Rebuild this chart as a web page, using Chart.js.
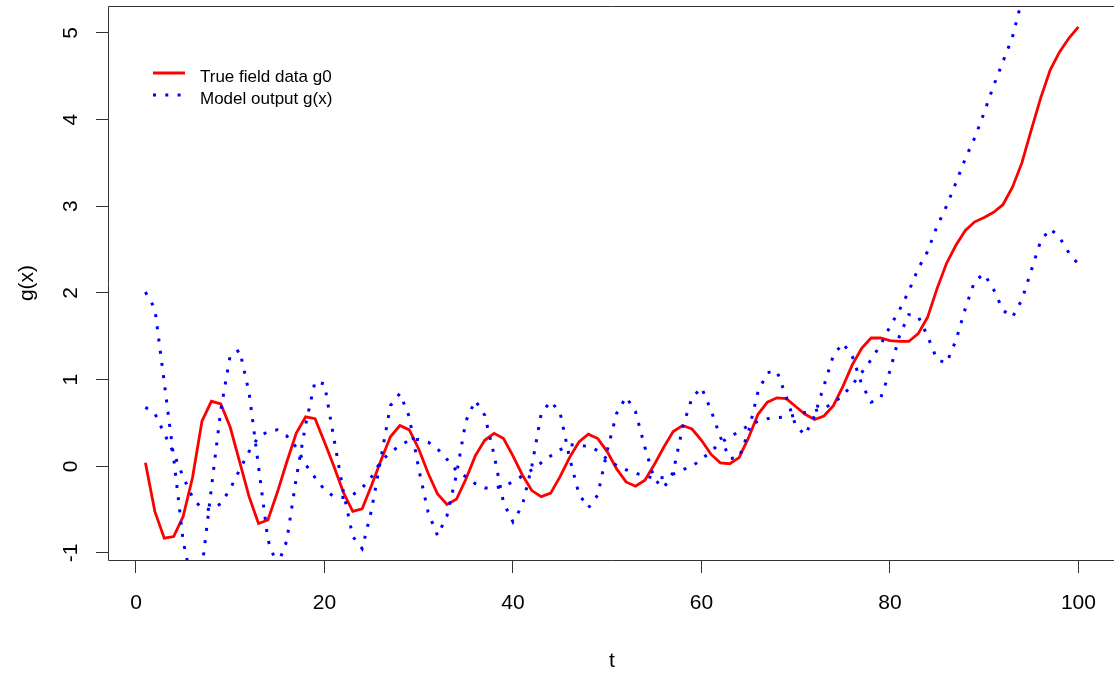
<!DOCTYPE html>
<html>
<head>
<meta charset="utf-8">
<script src="https://cdn.jsdelivr.net/npm/chart.js"></script>
<style>
  html, body { margin: 0; padding: 0; background: #fff; }
  canvas { display: block; }
</style>
</head>
<body>
<canvas id="chart" width="1114" height="677"></canvas>
<script>
// ---- data ----
const t = [1,2,3,4,5,6,7,8,9,10,11,12,13,14,15,16,17,18,19,20,
           21,22,23,24,25,26,27,28,29,30,31,32,33,34,35,36,37,38,39,40,
           41,42,43,44,45,46,47,48,49,50,51,52,53,54,55,56,57,58,59,60,
           61,62,63,64,65,66,67,68,69,70,71,72,73,74,75,76,77,78,79,80,
           81,82,83,84,85,86,87,88,89,90,91,92,93,94,95,96,97,98,99,100];

// red, true field data g0
const trueField = [
   0.04,-0.52,-0.83,-0.81,-0.58,-0.13, 0.52, 0.75, 0.72, 0.45,
   0.05,-0.35,-0.66,-0.62,-0.30, 0.05, 0.38, 0.57, 0.55, 0.28,
   0.00,-0.30,-0.52,-0.49,-0.22, 0.07, 0.34, 0.47, 0.42, 0.20,
  -0.08,-0.32,-0.44,-0.38,-0.15, 0.12, 0.30, 0.38, 0.32, 0.12,
  -0.10,-0.28,-0.35,-0.31,-0.12, 0.10, 0.28, 0.37, 0.32, 0.17,
  -0.03,-0.18,-0.23,-0.16, 0.02, 0.22, 0.40, 0.47, 0.43, 0.30,
   0.14, 0.04, 0.03, 0.10, 0.33, 0.60, 0.74, 0.79, 0.78, 0.69,
   0.60, 0.54, 0.58, 0.70, 0.92, 1.17, 1.36, 1.48, 1.48, 1.45,
   1.44, 1.44, 1.53, 1.72, 2.05, 2.34, 2.55, 2.72, 2.82, 2.87,
   2.93, 3.02, 3.22, 3.50, 3.88, 4.25, 4.57, 4.78, 4.94, 5.07
];

// blue dotted, model output g(x) - fast oscillating run
const modelRun1 = [
   2.01, 1.82, 0.97, 0.10,-0.86,-1.38,-1.18,-0.25, 0.65, 1.28,
   1.34, 0.85, 0.00,-0.85,-1.15,-0.86,-0.14, 0.48, 0.98, 0.95,
   0.32,-0.29,-0.81,-0.95,-0.50, 0.10, 0.70, 0.84, 0.57,-0.03,
  -0.53,-0.80,-0.57,-0.10, 0.52, 0.76, 0.59, 0.13,-0.42,-0.64,
  -0.45, 0.00, 0.61, 0.75, 0.62, 0.10,-0.32,-0.48,-0.33, 0.18,
   0.61, 0.80, 0.63, 0.22,-0.15,-0.25,-0.07, 0.45, 0.79, 0.91,
   0.65, 0.34, 0.09, 0.10, 0.40, 0.86, 1.08, 1.10, 0.80, 0.47,
   0.36, 0.58, 0.93, 1.28, 1.42, 1.27, 0.95, 0.74, 0.78, 1.10,
   1.50, 1.75, 1.73, 1.50, 1.23, 1.19, 1.45, 1.82, 2.14, 2.22,
   2.04, 1.80, 1.72, 1.92, 2.26, 2.60, 2.74, 2.64, 2.46, 2.33
];

// blue dotted, model output g(x) - slow run that climbs off the top
const modelRun2 = [
   0.68, 0.61, 0.38, 0.15,-0.12,-0.36,-0.49,-0.50,-0.43,-0.26,
  -0.04, 0.17, 0.34, 0.40, 0.42, 0.35, 0.22, 0.02,-0.13,-0.27,
  -0.35,-0.36,-0.33,-0.25,-0.12, 0.06, 0.16, 0.24, 0.30, 0.31,
   0.28, 0.20, 0.08,-0.05,-0.12,-0.20,-0.25,-0.25,-0.23,-0.18,
  -0.11,-0.04, 0.04, 0.12, 0.19, 0.25, 0.24, 0.23, 0.18, 0.08,
   0.01,-0.04,-0.08,-0.11,-0.14,-0.13,-0.09,-0.04, 0.00, 0.08,
   0.17, 0.27, 0.34, 0.40, 0.47, 0.52, 0.55, 0.56, 0.57, 0.59,
   0.62, 0.64, 0.67, 0.73, 0.82, 0.94, 1.08, 1.23, 1.40, 1.61,
   1.80, 2.02, 2.28, 2.48, 2.77, 3.00, 3.27, 3.55, 3.79, 4.08,
   4.39, 4.67, 4.95, 5.38, 5.68, 5.98, 6.28, 6.58, 6.88, 7.18
];

const xTicks = [0, 20, 40, 60, 80, 100];
const yTicks = [-1, 0, 1, 2, 3, 4, 5];
const legendLabels = ['True field data g0', 'Model output g(x)'];

const FONT = '"Liberation Sans", Arial, sans-serif';
const RED = '#ff0000';
const BLUE = '#0000ff';
const DOTS = [3, 9.3];

function points(ys) {
    return t.map((tv, i) => ({x: tv, y: ys[i]}));
}

// box, rotated y labels, axis titles and legend, the way base R draws them
// (the right edge of the R plot box falls just outside the picture)
const rDecor = {
    id: 'rDecor',
    afterDraw(chart) {
        const ctx = chart.ctx;
        const a = chart.chartArea;
        const yScale = chart.scales.y;
        ctx.save();

        ctx.strokeStyle = '#333';
        ctx.lineWidth = 1;
        ctx.beginPath();
        ctx.moveTo(chart.width, a.top + 0.5);
        ctx.lineTo(a.left + 0.5, a.top + 0.5);
        ctx.lineTo(a.left + 0.5, a.bottom + 0.5);
        ctx.lineTo(chart.width, a.bottom + 0.5);
        ctx.stroke();

        ctx.fillStyle = '#000';
        ctx.font = '21px ' + FONT;
        ctx.textAlign = 'center';
        ctx.textBaseline = 'middle';
        yTicks.forEach(v => {
            ctx.save();
            ctx.translate(71, yScale.getPixelForValue(v));
            ctx.rotate(-Math.PI / 2);
            ctx.fillText(String(v), 0, 0);
            ctx.restore();
        });

        // axis titles
        ctx.fillText('t', 612, 661);
        ctx.save();
        ctx.translate(27, (a.top + a.bottom) / 2);
        ctx.rotate(-Math.PI / 2);
        ctx.fillText('g(x)', 0, 0);
        ctx.restore();

        // legend (no box)
        ctx.textAlign = 'left';
        ctx.textBaseline = 'alphabetic';
        ctx.font = '17px ' + FONT;
        ctx.lineWidth = 3;
        ctx.strokeStyle = RED;
        ctx.beginPath();
        ctx.moveTo(153, 73);
        ctx.lineTo(185, 73);
        ctx.stroke();
        ctx.strokeStyle = BLUE;
        ctx.setLineDash(DOTS);
        ctx.beginPath();
        ctx.moveTo(153, 95);
        ctx.lineTo(188, 95);
        ctx.stroke();
        ctx.setLineDash([]);
        ctx.fillText(legendLabels[0], 200, 82);
        ctx.fillText(legendLabels[1], 200, 104);

        ctx.restore();
    }
};

new Chart(document.getElementById('chart'), {
    type: 'line',
    data: {
        datasets: [
            {
                label: legendLabels[0],
                data: points(trueField),
                borderColor: RED,
                borderWidth: 2.8,
                order: 1
            },
            {
                label: legendLabels[1],
                data: points(modelRun1),
                borderColor: BLUE,
                borderWidth: 3,
                borderDash: DOTS,
                order: 0
            },
            {
                label: legendLabels[1],
                data: points(modelRun2),
                borderColor: BLUE,
                borderWidth: 3,
                borderDash: DOTS,
                order: 0
            }
        ]
    },
    options: {
        responsive: false,
        animation: false,
        devicePixelRatio: 1,
        layout: {padding: {top: 6, right: 2, left: 0, bottom: 0}},
        elements: {
            point: {radius: 0},
            line: {tension: 0, fill: false}
        },
        datasets: {line: {clip: 0}},
        plugins: {
            legend: {display: false},
            tooltip: {enabled: false}
        },
        scales: {
            x: {
                type: 'linear',
                min: -2.97,
                max: 103.5,
                afterBuildTicks: s => { s.ticks = xTicks.map(v => ({value: v})); },
                afterFit: s => { s.height = 117; },
                border: {display: false},
                grid: {drawOnChartArea: false, drawTicks: true, tickLength: 13, color: '#333', lineWidth: 1},
                ticks: {
                    color: '#000',
                    font: {family: FONT, size: 21},
                    padding: 18,
                    maxRotation: 0,
                    callback: v => String(v)
                }
            },
            y: {
                type: 'linear',
                min: -1.081,
                max: 5.31,
                afterBuildTicks: s => { s.ticks = yTicks.map(v => ({value: v})); },
                afterFit: s => { s.width = 108; },
                border: {display: false},
                grid: {drawOnChartArea: false, drawTicks: true, tickLength: 12, color: '#333', lineWidth: 1},
                ticks: {display: false}
            }
        }
    },
    plugins: [rDecor]
});
</script>
</body>
</html>
